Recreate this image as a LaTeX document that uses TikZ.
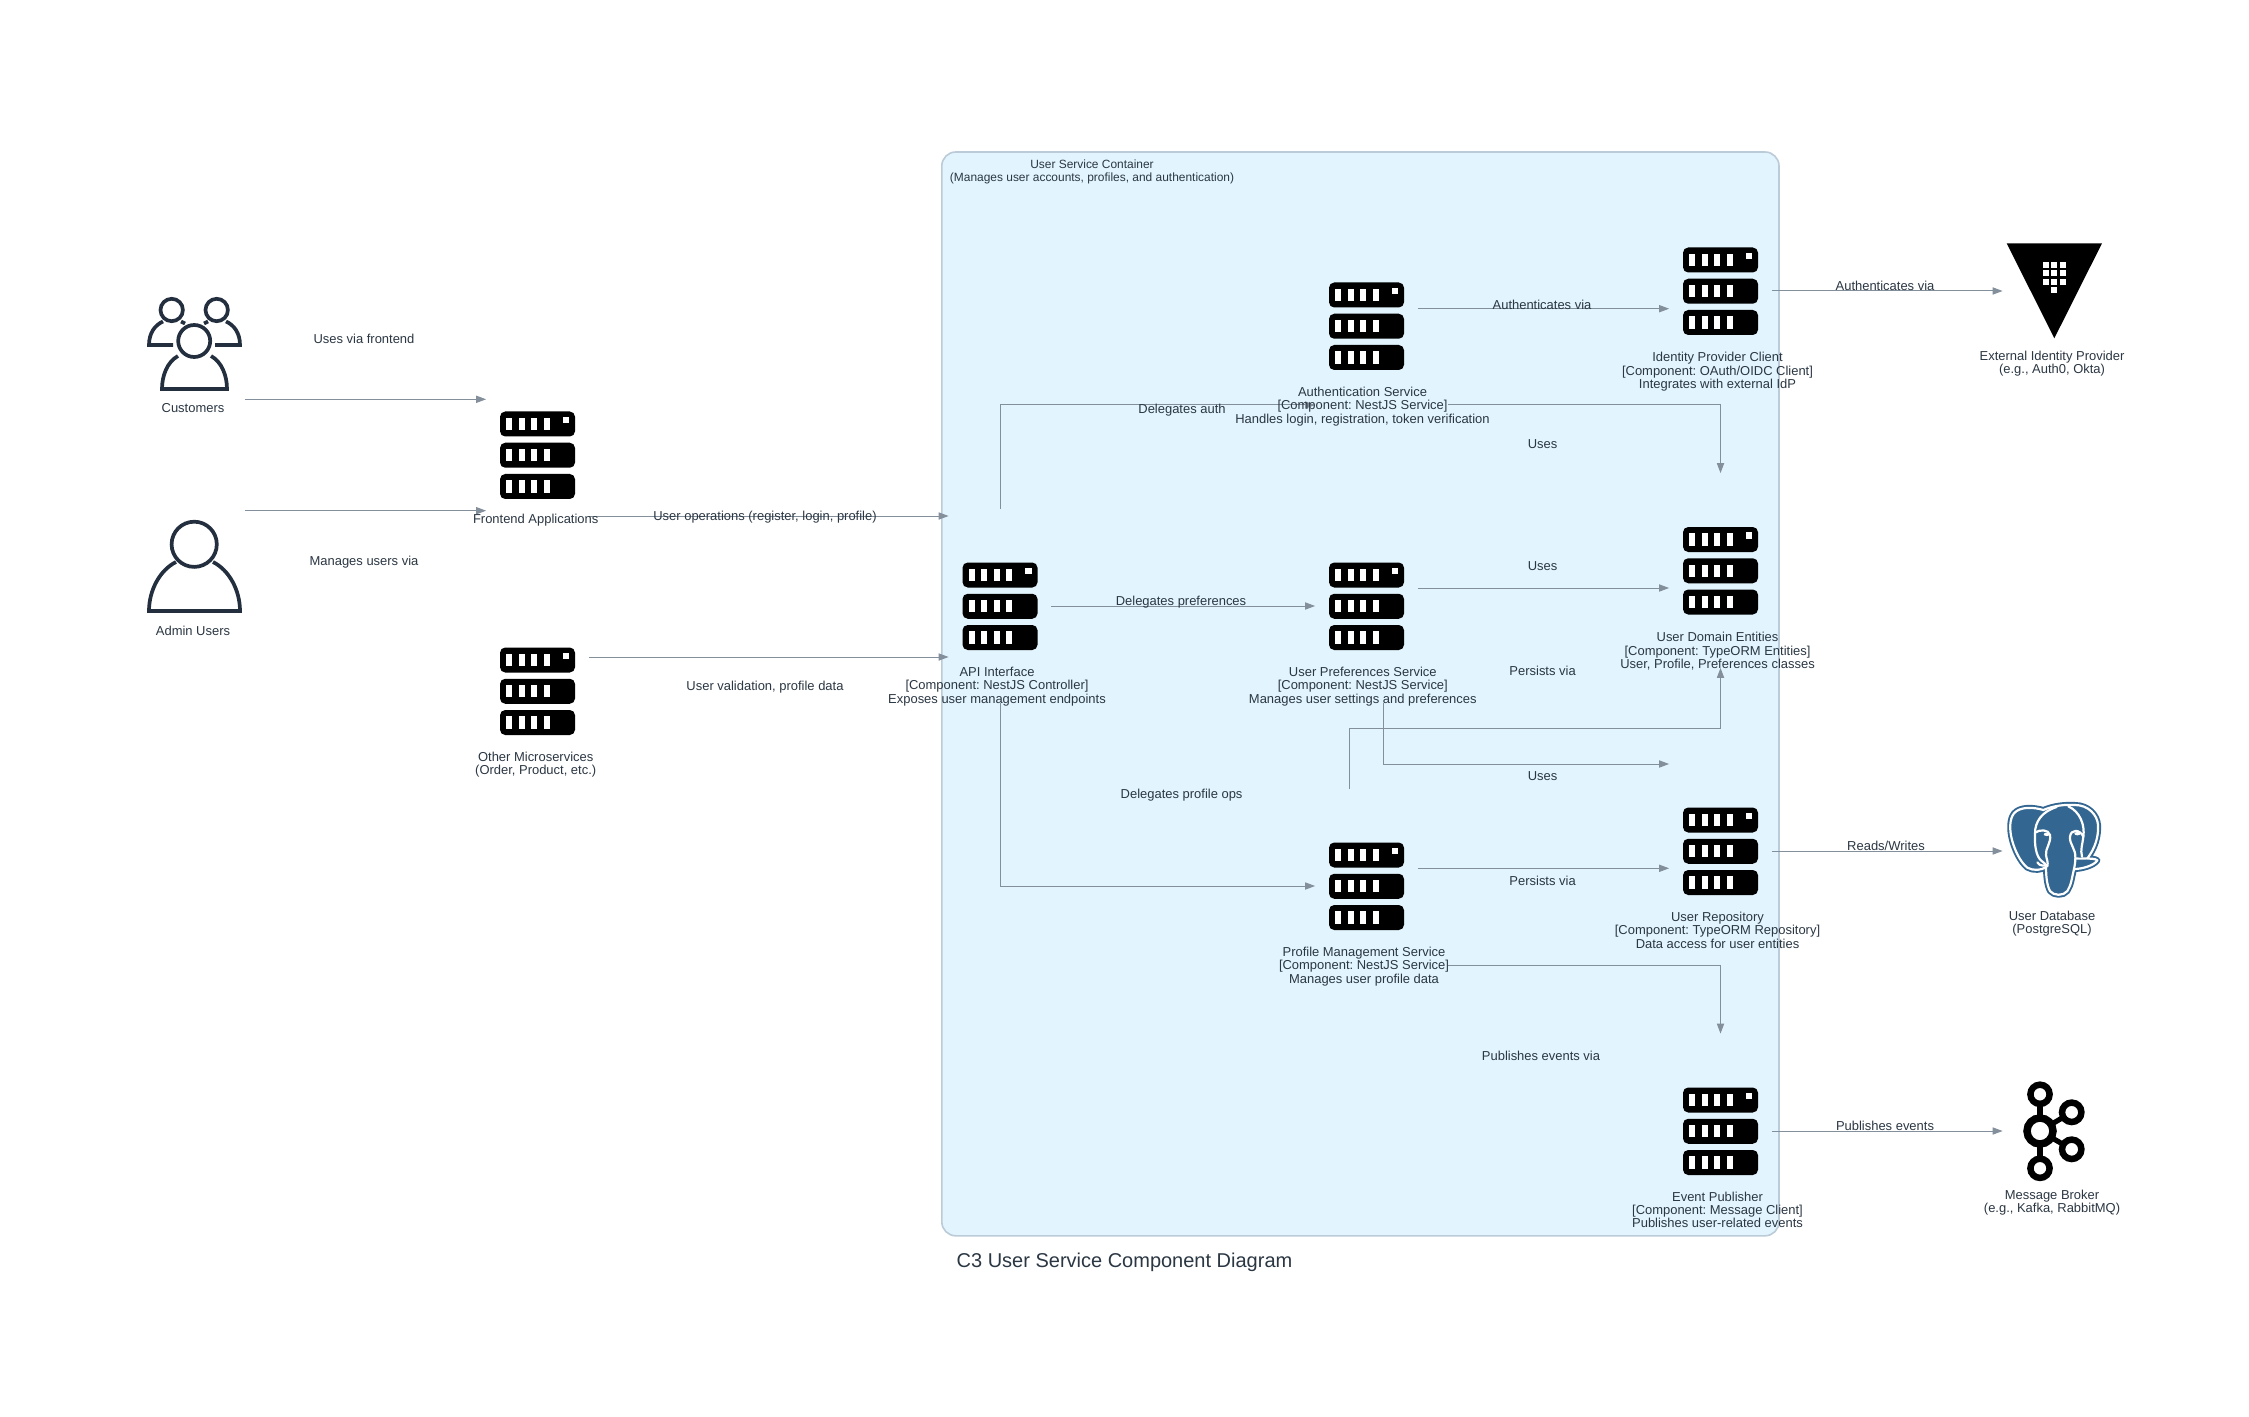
\documentclass[tikz,border=0pt]{standalone}
\usepackage{fontspec}
\setmainfont{Liberation Sans}
\usetikzlibrary{arrows.meta,calc}
\definecolor{conn}{HTML}{848F9C}
\definecolor{txt}{HTML}{2B3743}
\definecolor{ink}{HTML}{232F3E}
\definecolor{pg}{HTML}{336791}
\definecolor{cfill}{HTML}{E2F4FD}
\definecolor{cline}{HTML}{BCCBD8}
\tikzset{
  x=0.5pt,y=-0.5pt,
  iconbox/.style={inner sep=0pt,minimum width=51pt,minimum height=97pt,rectangle},
  lbl/.style={inner sep=0pt,align=center,text=txt,font=\fontsize{6.48}{6.67}\selectfont\frenchspacing},
  wire/.style={draw=conn,line width=0.5pt,-{Stealth[length=5pt,width=3.6pt,inset=0pt]}},
  personline/.style={draw=ink,line width=1.85pt},
  pics/server/.style={code={
    \foreach \dy in {-43.5,-12.25,19}{
      \fill[black,rounded corners=2.6pt] (-37.5,\dy) rectangle (37.5,\dy+25);
      \foreach \dx in {-31.5,-19,-6.4,6.2}{\fill[white] (\dx,\dy+6.3) rectangle (\dx+6,\dy+18.7);}
    }
    \fill[white] (25.2,-38.4) rectangle (31.8,-32);
  }}
}
\begin{document}
\begin{tikzpicture}
\useasboundingbox (0,0) rectangle (2249,1417);
\fill[white] (0,0) rectangle (2249,1417);
% container
\node[draw=cline,fill=cfill,line width=0.8pt,rounded corners=7pt,inner sep=0pt,minimum width=418.6pt,minimum height=541.9pt] (container) at (1360.4,693.9) {};
\node[lbl,font=\fontsize{5.97}{6.67}\selectfont\frenchspacing] (containerlabel) at (1092,171.6) {User Service Container\\(Manages user accounts, profiles, and authentication)};
\node[inner sep=0pt,text=txt,font=\fontsize{10}{12}\selectfont] (title) at (1124.5,1262) {C3 User Service Component Diagram};

% icon holders
\node[iconbox] (cust) at (193.5,349) {};
\node[iconbox] (admin) at (193.5,578) {};
\node[iconbox] (front) at (537.5,455) {};
\node[iconbox] (other) at (537.5,691) {};
\node[iconbox] (api) at (1000,606) {};
\node[iconbox] (auth) at (1366.5,326) {};
\node[iconbox] (pref) at (1366.5,606) {};
\node[iconbox] (prof) at (1366.5,886) {};
\node[iconbox] (idc) at (1720.5,291) {};
\node[iconbox] (domain) at (1720.5,570.5) {};
\node[iconbox] (repo) at (1720.5,851) {};
\node[iconbox] (event) at (1720.5,1131) {};
\node[iconbox] (vault) at (2054,291) {};
\node[iconbox] (db) at (2054,851) {};
\node[iconbox] (broker) at (2054,1131) {};

% server icons
\foreach \p in {front,other,api,auth,pref,prof,idc,domain,repo,event}{\pic at (\p) {server};}

% customers icon
\begin{scope}[personline]
  \draw (171.7,310) circle[radius=11.2];
  \draw (216.7,310) circle[radius=11.2];
  \draw (173,345) -- (149,345) .. controls (149,333) and (155,325) .. (163,321.5);
  \draw (181,321.5) -- (185,323.5);
  \draw (215,345) -- (240,345) .. controls (240,333) and (234,325) .. (226,321.5);
  \draw (208,321.5) -- (204,323.5);
  \draw (194.2,341) circle[radius=16];
  \draw (178,356) .. controls (167,362) and (162,376) .. (162,389) -- (227,389) .. controls (227,376) and (222,362) .. (211,356);
\end{scope}
% admin icon
\begin{scope}[personline]
  \draw (194.2,544.3) circle[radius=22.6];
  \draw (176,562) .. controls (160,570) and (149,590) .. (149,611) -- (240,611) .. controls (240,590) and (229,570) .. (213,562);
\end{scope}
% vault icon
\fill[black] (2006.7,243.3) -- (2102,243.3) -- (2054.3,338.3) -- cycle;
\foreach \cx in {2046,2054.3,2062.7}{\foreach \cy in {265,273.3,281.7}{\fill[white] (\cx-3,\cy-3) rectangle (\cx+3,\cy+3);}}
\fill[white] (2051.3,287) rectangle (2057.3,293);
% postgres icon
\begin{scope}[shift={(2000,795)},x=0.1667pt,y=-0.1667pt]
  \def\sil{(130,45) .. controls (100,36) and (60,34) .. (42,55) .. controls (28,72) and (28,105) .. (36,135) .. controls (44,165) and (60,200) .. (82,218) .. controls (100,228) and (125,226) .. (138,216) .. controls (138,240) and (140,270) .. (150,288) .. controls (160,302) and (190,304) .. (202,288) .. controls (214,270) and (216,245) .. (222,222) .. controls (245,222) and (282,212) .. (292,196) .. controls (285,190) and (272,192) .. (262,190) .. controls (285,160) and (296,125) .. (294,90) .. controls (292,60) and (265,30) .. (225,30) .. controls (195,28) and (160,32) .. (130,45) -- cycle}
  \path[fill=pg,draw=pg,line width=3pt,line join=round] \sil;
  \path[fill=pg,draw=white,line width=1.1pt,line join=round] \sil;
  \draw[white,line width=1.1pt,line cap=round] (170,36) .. controls (125,50) and (105,80) .. (105,115) .. controls (103,150) and (108,185) .. (125,198) .. controls (130,204) and (138,206) .. (140,212);
  \draw[white,line width=1.1pt,line cap=round] (112,202) .. controls (120,215) and (130,210) .. (140,212);
  \draw[white,line width=1.1pt,line cap=round] (107,112) .. controls (118,104) and (145,102) .. (150,120) .. controls (154,145) and (135,160) .. (138,180) .. controls (140,195) and (145,200) .. (142,214);
  \draw[white,line width=1.1pt,line cap=round] (205,34) .. controls (240,50) and (255,90) .. (250,125) .. controls (248,145) and (240,165) .. (246,185);
  \draw[white,line width=1.1pt,line cap=round] (250,125) .. controls (240,102) and (212,102) .. (210,125) .. controls (208,150) and (228,160) .. (226,190) .. controls (226,200) and (224,212) .. (222,222);
  \draw[white,line width=1.1pt,line cap=round] (226,190) .. controls (240,192) and (250,190) .. (262,190);
  \fill[white] (140,118) ellipse[x radius=9,y radius=5];
  \fill[white] (232,116) ellipse[x radius=9,y radius=5];
\end{scope}
% kafka icon
\begin{scope}[draw=black]
  \draw[line width=2.6pt] (2040,1094.3) -- (2040,1168.3);
  \draw[line width=2.6pt] (2040,1131) -- (2071.7,1112.3);
  \draw[line width=2.6pt] (2040,1131) -- (2071.7,1149.3);
  \draw[line width=3.25pt,fill=white] (2071.7,1112.3) circle[radius=9.7];
  \draw[line width=3.25pt,fill=white] (2071.7,1149.3) circle[radius=9.7];
  \draw[line width=3.25pt,fill=white] (2040,1094.3) circle[radius=9.6];
  \draw[line width=3.25pt,fill=white] (2040,1168.3) circle[radius=9.6];
  \draw[line width=3.75pt,fill=white] (2040,1131) circle[radius=13];
\end{scope}

% connectors
\draw[wire] ([yshift=-25.15pt]cust.east) -- ([yshift=27.85pt]front.west);
\draw[wire] ([yshift=33.65pt]admin.east) -- ([yshift=-27.85pt]front.west);
\draw[wire] ([yshift=-30.5pt]front.east) -- ([yshift=45pt]api.west);
\draw[wire] ([yshift=17pt]other.east) -- ([yshift=-25.5pt]api.west);
\draw[wire] (api.east) -- (pref.west);
\draw[wire] (api.north) |- ([yshift=-39.5pt]auth.west);
\draw[wire] (api.south) |- (prof.west);
\draw[wire] ([shift={(40.75pt,-39.5pt)}]auth.center) -| (domain.north);
\draw[wire] ([yshift=8.65pt]auth.east) -- ([yshift=-8.85pt]idc.west);
\draw[wire] (idc.east) -- (vault.west);
\draw[wire] ([yshift=9pt]pref.east) -- ([yshift=-8.75pt]domain.west);
\draw[wire] ([xshift=8.5pt]pref.south) |- ([yshift=43.5pt]repo.west);
\draw[wire] ([xshift=-8.5pt]prof.north) |- ([yshift=-30.4pt]domain.south) -- (domain.south);
\draw[wire] ([yshift=8.85pt]prof.east) -- ([yshift=-8.65pt]repo.west);
\draw[wire] (repo.east) -- (db.west);
\draw[wire] ([shift={(40.75pt,-39.5pt)}]prof.center) -| (event.north);
\draw[wire] (event.east) -- (broker.west);

% node labels
\node[lbl] (tcust) at (193,408.4) {Customers};
\node[lbl] (tadmin) at (193,630.7) {Admin Users};
\node[lbl] (tfront) at (535.7,520.1) {Frontend Applications};
\node[lbl] (tother) at (535.7,764.5) {Other Microservices\\(Order, Product, etc.)};
\node[lbl] (tapi) at (997,686.5) {API Interface\\{}[Component: NestJS Controller]\\Exposes user management endpoints};
\node[lbl] (tauth) at (1362.5,406.5) {Authentication Service\\{}[Component: NestJS Service]\\Handles login, registration, token verification};
\node[lbl] (tpref) at (1362.8,686.5) {User Preferences Service\\{}[Component: NestJS Service]\\Manages user settings and preferences};
\node[lbl] (tprof) at (1364,966.5) {Profile Management Service\\{}[Component: NestJS Service]\\Manages user profile data};
\node[lbl] (tidc) at (1717.5,371.9) {Identity Provider Client\\{}[Component: OAuth/OIDC Client]\\Integrates with external IdP};
\node[lbl] (tdomain) at (1717.5,651.2) {User Domain Entities\\{}[Component: TypeORM Entities]\\User, Profile, Preferences classes};
\node[lbl] (trepo) at (1717.5,930.1) {User Repository\\{}[Component: TypeORM Repository]\\Data access for user entities};
\node[lbl] (tevent) at (1717.5,1210) {Event Publisher\\{}[Component: Message Client]\\Publishes user-related events};
\node[lbl] (tvault) at (2052,363.5) {External Identity Provider\\(e.g., Auth0, Okta)};
\node[lbl] (tdb) at (2052,923.5) {User Database\\(PostgreSQL)};
\node[lbl] (tbroker) at (2052,1202.5) {Message Broker\\(e.g., Kafka, RabbitMQ)};

% connector labels
\node[lbl] (e1) at (364,338.7) {Uses via frontend};
\node[lbl] (e2) at (364,561.7) {Manages users via};
\node[lbl] (e3) at (765,517.5) {User operations (register, login, profile)};
\node[lbl] (e4) at (765,687.4) {User validation, profile data};
\node[lbl] (e5) at (1181,602.4) {Delegates preferences};
\node[lbl] (e6) at (1182,410.5) {Delegates auth};
\node[lbl] (e7) at (1181.6,794.7) {Delegates profile ops};
\node[lbl] (e8) at (1542,304.5) {Authenticates via};
\node[lbl] (e9) at (1885,285.5) {Authenticates via};
\node[lbl] (e10) at (1542.6,444.5) {Uses};
\node[lbl] (e11) at (1542.6,566) {Uses};
\node[lbl] (e12) at (1542.6,670.7) {Persists via};
\node[lbl] (e13) at (1542.6,775.7) {Uses};
\node[lbl] (e14) at (1542.6,880.7) {Persists via};
\node[lbl] (e15) at (1886,846) {Reads/Writes};
\node[lbl] (e16) at (1541,1055.7) {Publishes events via};
\node[lbl] (e17) at (1885,1126) {Publishes events};
\end{tikzpicture}
\end{document}
